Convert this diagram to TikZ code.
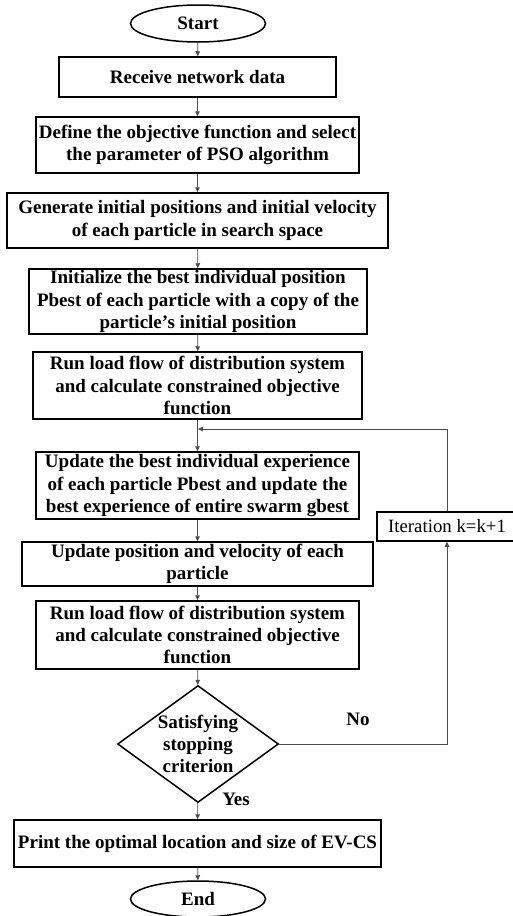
\documentclass[tikz,border=0pt]{standalone}
\usepackage{fontspec}
\setmainfont{Liberation Serif}
\usetikzlibrary{shapes.geometric,arrows.meta}
\begin{document}
\begin{tikzpicture}[x=1pt,y=-1pt,
  txt/.style={font=\bfseries\fontsize{19}{22.3}\selectfont},
  box/.style={txt,draw=black,line width=1.5pt,rectangle,align=center,inner sep=0pt},
  term/.style={txt,draw=black,line width=1.5pt,ellipse,inner sep=0pt,minimum width=135pt,minimum height=37pt},
  decision/.style={txt,draw=black,line width=1.5pt,diamond,align=center,inner sep=-3pt,minimum width=161pt,minimum height=117pt,shape aspect=1.376},
  itbox/.style={draw=black,line width=1.5pt,rectangle,inner sep=0pt,font=\fontsize{18.8}{22}\selectfont},
  arr/.style={draw=black!70,line width=0.8pt,-{Triangle[length=5pt,width=4.5pt]}}]
\useasboundingbox (0,0) rectangle (513,916);

\node[term] (start) at (198,23.5) {Start};
\node[box,minimum width=277pt,minimum height=40pt] (b1) at (197.5,77) {Receive network data};
\node[box,minimum width=323pt,minimum height=56pt] (b2) at (197.5,145) {Define the objective function and select\\the parameter of PSO algorithm};
\node[box,minimum width=381pt,minimum height=55pt] (b3) at (197.5,220.5) {Generate initial positions and initial velocity\\of each particle in search space};
\node[box,minimum width=338pt,minimum height=65pt] (b4) at (198,301.5) {Initialize the best individual position\\Pbest of each particle with a copy of the\\particle’s initial position};
\node[box,minimum width=329pt,minimum height=67pt] (b5) at (197.5,385.5) {Run load flow of distribution system\\and calculate constrained objective\\function};
\node[box,minimum width=323pt,minimum height=67pt] (b6) at (197.5,485.5) {Update the best individual experience\\of each particle Pbest and update the\\best experience of entire swarm gbest};
\node[box,minimum width=351pt,minimum height=44pt] (b7) at (197.5,564) {Update position and velocity of each\\particle};
\node[box,minimum width=323pt,minimum height=68pt] (b8) at (197.5,635) {Run load flow of distribution system\\and calculate constrained objective\\function};
\node[decision] (dec) at (198,744) {Satisfying\\stopping\\criterion};
\node[box,minimum width=367pt,minimum height=47pt] (b9) at (197.5,843.5) {Print the optimal location and size of EV-CS};
\node[term,minimum height=36pt] (end) at (198,899) {End};
\node[itbox,minimum width=140pt,minimum height=29pt] (iter) at (447,526.5) {Iteration k=k+1};
\coordinate (join) at (198,429);

\node[txt] (no) at (358,719) {No};
\node[txt] (yes) at (236,799) {Yes};

\draw[arr] (start) -- (b1);
\draw[arr] (b1) -- (b2);
\draw[arr] (b2) -- (b3);
\draw[arr] (b3) -- (b4);
\draw[arr] (b4) -- (b5);
\draw[arr] (b5) -- (b6);
\draw[arr] (b6) -- (b7);
\draw[arr] (b7) -- (b8);
\draw[arr] (b8) -- (dec);
\draw[arr] (dec) -- (b9);
\draw[arr] (b9) -- (end);
\draw[arr] (dec.east) -| (iter.south);
\draw[arr] (iter.north) |- (join);
\end{tikzpicture}
\end{document}
